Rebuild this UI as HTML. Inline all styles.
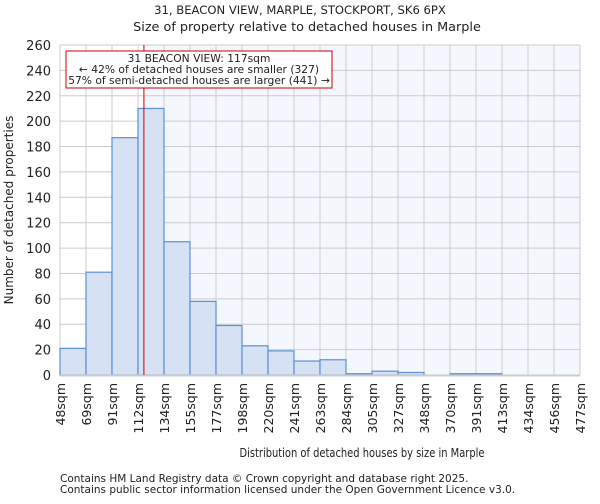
<!DOCTYPE html>
<html><head><meta charset="utf-8"><style>
body{margin:0;background:#fff;font-family:"DejaVu Sans","Liberation Sans",sans-serif}
svg text{font-family:"DejaVu Sans","Liberation Sans",sans-serif;fill:#222}
</style></head><body>
<svg id="c" width="600" height="500" xmlns="http://www.w3.org/2000/svg">
<text x="300" y="14" text-anchor="middle" font-size="11.6">31, BEACON VIEW, MARPLE, STOCKPORT, SK6 6PX</text>
<text x="307" y="31" text-anchor="middle" font-size="12.8">Size of property relative to detached houses in Marple</text>
<g id="plot"></g>
<text x="362" y="457" text-anchor="middle" font-size="12" textLength="245" lengthAdjust="spacingAndGlyphs">Distribution of detached houses by size in Marple</text>
<text transform="translate(13,210) rotate(-90)" text-anchor="middle" font-size="12">Number of detached properties</text>
<text x="60" y="482" font-size="10.5" fill="#444">Contains HM Land Registry data © Crown copyright and database right 2025.</text>
<text x="60" y="493" font-size="10.5" fill="#444">Contains public sector information licensed under the Open Government Licence v3.0.</text>
</svg>
<script>
const binLabels=["48sqm","69sqm","91sqm","112sqm","134sqm","155sqm","177sqm","198sqm","220sqm","241sqm","263sqm","284sqm","305sqm","327sqm","348sqm","370sqm","391sqm","413sqm","434sqm","456sqm","477sqm"];
const binEdges=[48,69,91,112,134,155,177,198,220,241,263,284,305,327,348,370,391,413,434,456,477];
const counts=[21,81,187,210,105,58,39,23,19,11,12,1,3,2,0,1,1,0,0,0];
const yTicks=[0,20,40,60,80,100,120,140,160,180,200,220,240,260];
const propertySize=117;
const ns="http://www.w3.org/2000/svg";
const L=60,R=580,T=45,B=375,YMAX=260;
const nb=counts.length;
const xi=i=>L+(R-L)*i/nb;
const xv=v=>{let i=0;while(i<nb-1&&v>binEdges[i+1])i++;return xi(i)+(v-binEdges[i])/(binEdges[i+1]-binEdges[i])*(xi(i+1)-xi(i));};
const y=v=>B-(B-T)*v/YMAX;
const g=document.getElementById('plot');
function mk(t,a){const e=document.createElementNS(ns,t);for(const k in a)e.setAttribute(k,a[k]);g.appendChild(e);return e;}
const px=xv(propertySize);
let bg=mk('rect',{x:L,y:T,width:R-L,height:B-T,fill:'#f4f7fd'});


let bgl=mk('rect',{x:L,y:T,width:px-L,height:B-T,fill:'#ffffff'});


yTicks.forEach(t=>{
 let l=mk('line',{x1:L,x2:R,y1:y(t),y2:y(t),stroke:'#cccccc','stroke-width':1});
 
 
 let tx=mk('text',{x:L-9,y:y(t)+5,'text-anchor':'end','font-size':'13'});tx.textContent=t;
 
 
});
binLabels.forEach((lab,i)=>{
 let l=mk('line',{x1:xi(i),x2:xi(i),y1:T,y2:B,stroke:'#cccccc','stroke-width':1});
 
 
 let tx=mk('text',{transform:`translate(${xi(i)+5},${B+8}) rotate(-90)`,'text-anchor':'end','font-size':'12.5'});tx.textContent=lab;
 
 
});
counts.forEach((c,i)=>{
 let r=mk('rect',{x:xi(i),y:y(c),width:xi(i+1)-xi(i),height:B-y(c),fill:'#d6e1f3',stroke:'#5b8fd6','stroke-width':1.2});
 
 
});
let ax=mk('line',{x1:L,x2:R,y1:B+0.5,y2:B+0.5,stroke:'#cccccc','stroke-width':2});


let ml=mk('line',{x1:px,x2:px,y1:T,y2:B,stroke:'#cc0000','stroke-width':1});


let box=mk('rect',{x:66,y:51,width:266,height:37,fill:'#fff',stroke:'#cc0000','stroke-width':1});


["31 BEACON VIEW: 117sqm","← 42% of detached houses are smaller (327)","57% of semi-detached houses are larger (441) →"].forEach((s,i)=>{
 let t=mk('text',{x:199,y:62+i*11,'text-anchor':'middle','font-size':'10.7'});t.textContent=s;
 
 
});
</script>
</body></html>
